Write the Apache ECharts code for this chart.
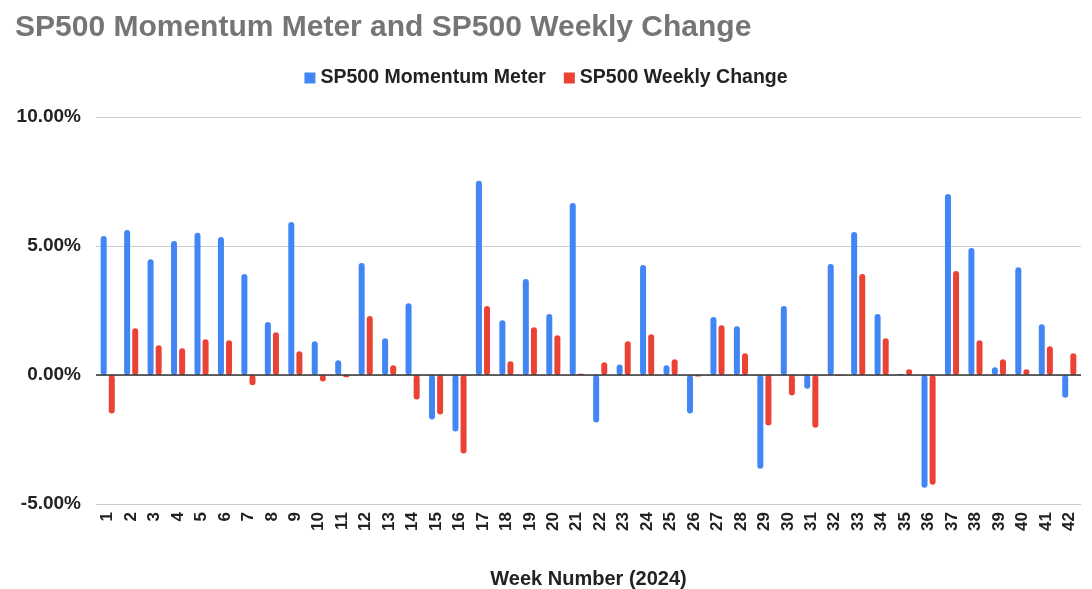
<!DOCTYPE html>
<html>
<head>
<meta charset="utf-8">
<script src="https://cdn.jsdelivr.net/npm/echarts@6/dist/echarts.min.js"></script>
<style>html,body{margin:0;padding:0;background:#fff}#c{width:1092px;height:589px}</style>
</head>
<body>
<div id="c"></div>
<script>
const weeks = Array.from({length: 42}, (_, i) => String(i + 1));
const momentum = [5.39, 5.62, 4.49, 5.19, 5.51, 5.35, 3.91, 2.05, 5.93, 1.31,
  0.57, 4.34, 1.42, 2.78, -1.72, -2.19, 7.53, 2.12, 3.72, 2.36,
  6.67, -1.84, 0.41, 4.26, 0.38, -1.49, 2.25, 1.89, -3.63, 2.67,
  -0.53, 4.30, 5.54, 2.36, 0.04, -4.37, 7.02, 4.92, 0.30, 4.18,
  1.97, -0.88];
const weekly = [-1.49, 1.81, 1.15, 1.04, 1.39, 1.35, -0.40, 1.66, 0.92, -0.25,
  -0.09, 2.29, 0.38, -0.95, -1.53, -3.04, 2.67, 0.53, 1.85, 1.54,
  0.05, 0.49, 1.31, 1.58, 0.61, -0.06, 1.93, 0.84, -1.96, -0.79,
  -2.04, -0.03, 3.91, 1.42, 0.22, -4.25, 4.03, 1.35, 0.61, 0.22,
  1.11, 0.84];
const yTicks = [-5, 0, 5, 10];

const chart = echarts.init(document.getElementById('c'));
const font = 'Liberation Sans, Arial, sans-serif';
chart.setOption({
  animation: false,
  title: {
    text: 'SP500 Momentum Meter and SP500 Weekly Change',
    left: 10, top: 8,
    textStyle: {fontFamily: font, fontSize: 30, fontWeight: 'bold', color: '#757575'}
  },
  legend: {
    top: 63, left: 'center',
    icon: 'rect', itemWidth: 11, itemHeight: 11, itemGap: 18,
    textStyle: {fontFamily: font, fontSize: 19.5, fontWeight: 'bold', color: '#222'}
  },
  grid: {left: 96, right: 11, top: 117, bottom: 85, containLabel: false, outerBoundsMode: 'none'},
  xAxis: {
    type: 'category', data: weeks,
    axisLine: {show: false, onZero: false},
    axisTick: {show: false},
    axisLabel: {rotate: 90, fontFamily: font, fontSize: 17, fontWeight: 'bold', color: '#222', margin: 8, interval: 0},
    name: 'Week Number (2024)', nameLocation: 'middle', nameGap: 65,
    nameTextStyle: {fontFamily: font, fontSize: 20, fontWeight: 'bold', color: '#222'}
  },
  yAxis: {
    type: 'value', min: yTicks[0], max: yTicks[yTicks.length - 1], interval: 5,
    axisLine: {show: false}, axisTick: {show: false},
    splitLine: {lineStyle: {color: '#cccccc', width: 1}},
    axisLabel: {fontFamily: font, fontSize: 19, fontWeight: 'bold', color: '#222', margin: 15,
      formatter: v => v.toFixed(2) + '%'}
  },
  series: [
    {
      name: 'SP500 Momentum Meter', type: 'bar', data: momentum,
      barWidth: 6, barGap: '35%',
      itemStyle: {color: '#4285F4', borderRadius: 3},
      markLine: {
        silent: true, symbol: ['none', 'none'], label: {show: false},
        lineStyle: {color: '#333', width: 1.5, type: 'solid'},
        data: [{yAxis: 0}]
      }
    },
    {
      name: 'SP500 Weekly Change', type: 'bar', data: weekly,
      barWidth: 6,
      itemStyle: {color: '#EA4335', borderRadius: 3}
    }
  ]
});
</script>
</body>
</html>
